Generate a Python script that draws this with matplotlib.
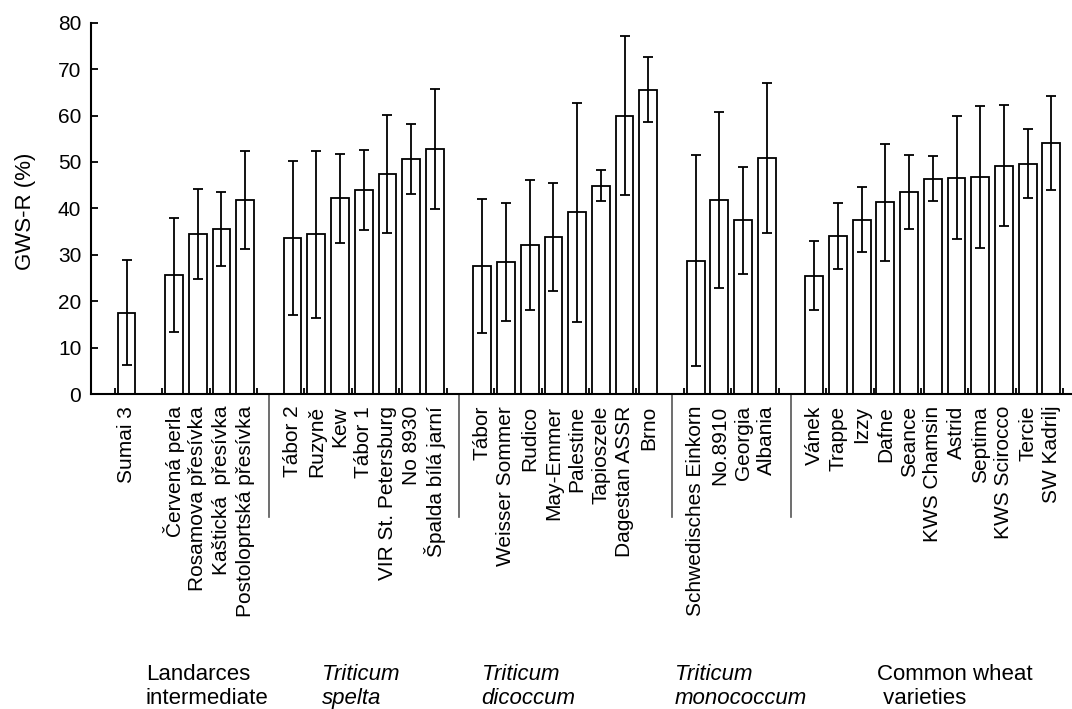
import matplotlib
matplotlib.use('Agg')
import matplotlib.pyplot as plt
from matplotlib.transforms import blended_transform_factory
import numpy as np

plt.rcParams['font.family'] = ['Liberation Sans', 'DejaVu Sans']

# ---- data ----
check_names = ["Sumai 3"]
check_means = [17.5]
check_sd = [11.3]

landrace_names = ["Červená perla", "Rosamova přesívka", "Kaštická  přesívka", "Postoloprtská přesívka"]
landrace_means = [25.7, 34.5, 35.5, 41.8]
landrace_sd = [12.3, 9.7, 8.0, 10.5]

spelta_names = ["Tábor 2", "Ruzyně", "Kew", "Tábor 1", "VIR St. Petersburg", "No 8930", "Špalda bílá jarní"]
spelta_means = [33.7, 34.4, 42.2, 43.9, 47.4, 50.6, 52.8]
spelta_sd = [16.6, 18.0, 9.6, 8.6, 12.8, 7.6, 12.9]

dicoccum_names = ["Tábor", "Weisser Sommer", "Rudico", "May-Emmer", "Palestine", "Tapioszele", "Dagestan ASSR", "Brno"]
dicoccum_means = [27.6, 28.5, 32.1, 33.9, 39.2, 44.9, 60.0, 65.6]
dicoccum_sd = [14.5, 12.7, 14.0, 11.6, 23.6, 3.3, 17.1, 7.0]

monococcum_names = ["Schwedisches Einkorn", "No.8910", "Georgia", "Albania"]
monococcum_means = [28.7, 41.8, 37.4, 50.8]
monococcum_sd = [22.7, 19.0, 11.5, 16.2]

common_names = ["Vánek", "Trappe", "Izzy", "Dafne", "Seance", "KWS Chamsin", "Astrid",
                "Septima", "KWS Scirocco", "Tercie", "SW Kadrilj"]
common_means = [25.5, 34.1, 37.5, 41.3, 43.5, 46.4, 46.6, 46.7, 49.2, 49.6, 54.0]
common_sd = [7.5, 7.1, 7.0, 12.6, 7.9, 4.8, 13.3, 15.3, 13.1, 7.4, 10.1]

group_line1 = ["Landarces", "Triticum", "Triticum", "Triticum", "Common wheat"]
group_line2 = ["intermediate", "spelta", "dicoccum", "monococcum", " varieties"]
group_style = ["normal", "italic", "italic", "italic", "normal"]

groups = [
    (check_names, check_means, check_sd),
    (landrace_names, landrace_means, landrace_sd),
    (spelta_names, spelta_means, spelta_sd),
    (dicoccum_names, dicoccum_means, dicoccum_sd),
    (monococcum_names, monococcum_means, monococcum_sd),
    (common_names, common_means, common_sd),
]

# ---- positions with one empty slot between groups ----
pos, names, means, sds, seps = [], [], [], [], []
slot = 0
for gi, (n, m, s) in enumerate(groups):
    if gi > 0:
        if gi >= 2:
            seps.append(slot)
        slot += 1
    for nn, mm, ss in zip(n, m, s):
        pos.append(slot)
        names.append(nn)
        means.append(mm)
        sds.append(ss)
        slot += 1

W, H = 1072, 709
fig = plt.figure(figsize=(W / 100, H / 100), dpi=100)
ax = fig.add_axes([91 / W, 315 / H, 981 / W, 371.3 / H])

ax.bar(pos, means, width=0.75, color='white', edgecolor='black', linewidth=1.3, zorder=2)
ax.errorbar(pos, means, yerr=sds, fmt='none', ecolor='black', elinewidth=1.3,
            capsize=3.4, capthick=1.3, zorder=3)

ax.set_xlim(-1.5, 39.87)
ax.set_ylim(0, 80)
ax.set_yticks(np.arange(0, 81, 10))

ax.set_xticks(np.arange(-0.5, 40, 2))
ax.set_xticks(pos, minor=True)
ax.set_xticklabels(names, minor=True, rotation=90, fontsize=15)
ax.tick_params(axis='x', which='major', direction='in', length=4, width=1.3, labelbottom=False)
ax.tick_params(axis='x', which='minor', length=0, pad=8.5)
ax.tick_params(axis='y', direction='in', length=5.3, width=1.3, pad=7, labelsize=15)

for sp in ['top', 'right']:
    ax.spines[sp].set_visible(False)
for sp in ['left', 'bottom']:
    ax.spines[sp].set_linewidth(1.5)

ax.set_ylabel('GWS-R (%)', fontsize=16, va='center')
ax.yaxis.set_label_coords((25 - 91) / 981, 0.493)

trans = blended_transform_factory(ax.transData, ax.transAxes)
for s in seps:
    ax.plot([s, s], [0, -0.331], transform=trans, color='#555555', lw=1.2, clip_on=False)

group_x = [145.7, 321.7, 481.7, 675, 877]
for x, l1, l2, st in zip(group_x, group_line1, group_line2, group_style):
    fig.text(x / W, (H - 680) / H, l1, fontsize=16, fontstyle=st, ha='left', va='baseline')
    fig.text(x / W, (H - 704) / H, l2, fontsize=16, fontstyle=st, ha='left', va='baseline')

fig.savefig('out.png', dpi=100)
